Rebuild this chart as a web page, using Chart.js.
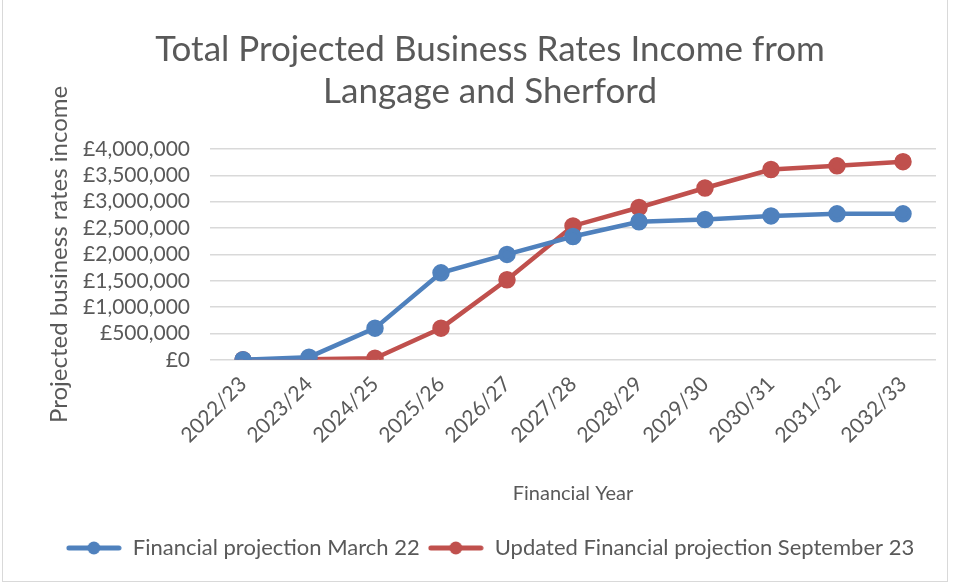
<!DOCTYPE html>
<html>
<head>
<meta charset="utf-8">
<script src="https://cdn.jsdelivr.net/npm/chart.js@4"></script>
<style>
  html, body { margin: 0; padding: 0; background: #fff; }
  #wrap { position: absolute; left: 2px; top: 0px; width: 946px; height: 582px; border: 1px solid #d9d9d9; border-top: none; box-sizing: border-box; }
</style>
</head>
<body>
<div id="wrap"><canvas id="lineChart"></canvas></div>
<script>
// categories and values
var years = ['2022/23', '2023/24', '2024/25', '2025/26', '2026/27', '2027/28', '2028/29', '2029/30', '2030/31', '2031/32', '2032/33'];
var march22 = [0, 50000, 600000, 1650000, 2000000, 2340000, 2620000, 2660000, 2730000, 2770000, 2770000];
var sept23 = [0, 10000, 30000, 600000, 1520000, 2540000, 2890000, 3260000, 3610000, 3680000, 3760000];
var yTicks = [0, 500000, 1000000, 1500000, 2000000, 2500000, 3000000, 3500000, 4000000];

var grey = '#595959';
var fontName = 'Lato';

// little line-with-dot swatch for the legend
function swatch(colour) {
    var c = document.createElement('canvas');
    c.width = 56;
    c.height = 14;
    var g = c.getContext('2d');
    g.strokeStyle = colour;
    g.lineWidth = 5;
    g.lineCap = 'round';
    g.beginPath();
    g.moveTo(3, 7);
    g.lineTo(53, 7);
    g.stroke();
    g.fillStyle = colour;
    g.beginPath();
    g.arc(28, 7, 6.5, 0, Math.PI * 2);
    g.fill();
    return c;
}

document.addEventListener("DOMContentLoaded", function () {
    var ctx = document.getElementById('lineChart').getContext('2d');

    var data = {
        labels: years,
        datasets: [{
            label: 'Financial projection March 22',
            data: march22,
            borderColor: '#4F81BD',
            backgroundColor: '#4F81BD',
            borderWidth: 4.5,
            pointRadius: 6.5,
            pointHoverRadius: 6.5
        }, {
            label: 'Updated Financial projection September 23',
            data: sept23,
            borderColor: '#C0504D',
            backgroundColor: '#C0504D',
            borderWidth: 4.5,
            pointRadius: 6.5,
            pointHoverRadius: 6.5
        }]
    };

    var swatches = [swatch('#4F81BD'), swatch('#C0504D')];

    var lineChart = new Chart(ctx, {
        type: 'line',
        data: data,
        options: {
            responsive: true,
            maintainAspectRatio: false,
            animation: false,
            layout: { padding: { left: 40, right: 10, top: 29, bottom: 12 } },
            plugins: {
                title: {
                    display: true,
                    text: ['Total Projected Business Rates Income from', 'Langage and Sherford'],
                    color: grey,
                    font: { family: fontName, size: 35, weight: 'normal' },
                    lineHeight: 1.5,
                    padding: { top: 0, bottom: 36 }
                },
                legend: {
                    position: 'bottom',
                    labels: {
                        color: grey,
                        font: { family: fontName, size: 22 },
                        usePointStyle: true,
                        pointStyleWidth: 56,
                        padding: 8,
                        generateLabels: function (chart) {
                            return chart.data.datasets.map(function (ds, i) {
                                return {
                                    text: ds.label,
                                    fontColor: grey,
                                    pointStyle: swatches[i],
                                    datasetIndex: i,
                                    hidden: false
                                };
                            });
                        }
                    }
                },
                tooltip: { enabled: false }
            },
            scales: {
                x: {
                    offset: true,
                    grid: { display: false },
                    border: { display: false },
                    ticks: {
                        color: grey,
                        font: { family: fontName, size: 21 },
                        minRotation: 45,
                        maxRotation: 45,
                        padding: 4
                    },
                    title: {
                        display: true,
                        text: 'Financial Year',
                        color: grey,
                        font: { family: fontName, size: 20 },
                        padding: { top: 30, bottom: 23 }
                    }
                },
                y: {
                    min: 0,
                    max: 4000000,
                    afterBuildTicks: function (axis) {
                        axis.ticks = yTicks.map(function (v) { return { value: v }; });
                    },
                    afterFit: function (axis) {
                        // fixed width so the plot starts where the original does
                        axis.width = 167;
                    },
                    grid: { color: '#d9d9d9', lineWidth: 1.5, drawTicks: false },
                    border: { display: false },
                    ticks: {
                        autoSkip: false,
                        color: grey,
                        font: { family: fontName, size: 21 },
                        padding: 20,
                        callback: function (v) { return '£' + v.toLocaleString('en-GB'); }
                    },
                    title: {
                        display: true,
                        text: 'Projected business rates income',
                        color: grey,
                        font: { family: fontName, size: 24 },
                        padding: { top: 2, bottom: 3 }
                    }
                }
            }
        }
    });
});
</script>
</body>
</html>
